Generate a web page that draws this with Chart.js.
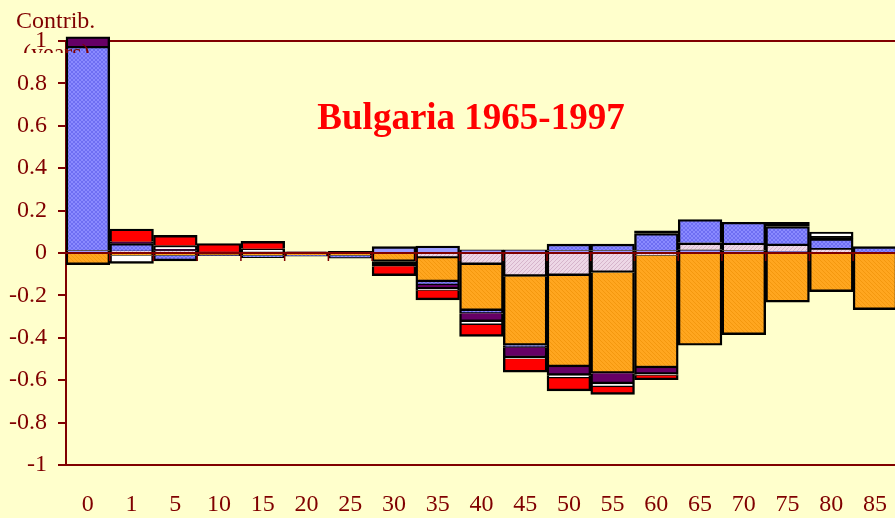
<!DOCTYPE html>
<html>
<head>
<meta charset="utf-8">
<script src="https://cdn.jsdelivr.net/npm/chart.js@4/dist/chart.umd.min.js"></script>
<style>
  html, body { margin: 0; padding: 0; background: #FFFFCC; overflow: hidden; }
  #wrap { position: relative; width: 912px; height: 518px; }
</style>
</head>
<body>
<div id="wrap"><canvas id="chart"></canvas></div>
<script>
// age groups on the x axis
const ageGroups = ['0', '1', '5', '10', '15', '20', '25', '30', '35', '40', '45', '50', '55', '60', '65', '70', '75', '80', '85'];
const yTicks = [1, 0.8, 0.6, 0.4, 0.2, 0, -0.2, -0.4, -0.6, -0.8, -1];

// contributions (years) per cause, in stacking order
const lavenderVals = [0.012, null, null, null, null, null, null, 0.03, 0.033, 0.015, 0.015, 0.012, 0.012, 0.012, 0.015, 0.012, 0.008, null, null];
const pinkVals     = [null, 0.01, 0.012, 0.005, 0.005, null, null, null, -0.024, -0.055, -0.11, -0.107, -0.092, -0.012, 0.033, 0.035, 0.035, 0.022, null];
const orangeVals   = [-0.055, -0.012, -0.012, -0.008, -0.012, -0.01, -0.012, -0.04, -0.112, -0.217, -0.325, -0.43, -0.475, -0.53, -0.435, -0.385, -0.232, -0.182, -0.267];
const blueVals     = [0.963, 0.035, -0.025, -0.005, -0.01, -0.005, -0.012, null, -0.014, -0.012, -0.01, 0.03, 0.03, 0.08, 0.11, 0.098, 0.082, 0.045, 0.03];
const blackVals    = [null, null, null, null, null, null, 0.008, -0.022, null, null, null, null, null, 0.012, null, null, 0.02, 0.012, null];
const purpleVals   = [0.045, 0.008, 0.005, null, null, 0.006, null, null, -0.018, -0.04, -0.05, -0.04, -0.05, -0.03, null, null, null, null, null];
const whiteVals    = [null, -0.037, 0.018, null, 0.015, null, null, null, -0.008, -0.014, -0.005, -0.013, -0.015, -0.005, null, null, null, 0.02, null];
const redVals      = [null, 0.06, 0.048, 0.04, 0.035, null, null, -0.045, -0.045, -0.055, -0.062, -0.06, -0.035, -0.02, null, null, null, null, null];

const AXIS_RED = '#800000';
const FONT = "'Liberation Serif', 'Times New Roman', serif";

// small tiled fills for the hatched segments
function makePattern(base, ink, dirs) {
  const c = document.createElement('canvas');
  c.width = 4; c.height = 4;
  const g = c.getContext('2d');
  g.fillStyle = base;
  g.fillRect(0, 0, 4, 4);
  g.fillStyle = ink;
  for (let i = 0; i < 4; i++) {
    if (dirs.includes('/')) g.fillRect(i, 3 - i, 1, 1);
    if (dirs.includes('\\')) g.fillRect(i, i, 1, 1);
  }
  return g.createPattern(c, 'repeat');
}

const fills = {
  lavender: '#9C9CFF',
  pink: makePattern('#EDD7E6', '#D6B4CB', '/'),
  orange: makePattern('#FFA61F', '#F4980E', '\\'),
  blue: makePattern('#8A8AFF', '#6E6EF2', '/\\'),
  black: '#000000',
  purple: '#660066',
  white: '#FFFFFF',
  red: '#FF0000'
};

// base side is left open so stacked segments share a single outline
function series(label, data, fill) {
  return {
    label, data,
    backgroundColor: fill,
    borderColor: '#000000',
    borderWidth: 2.4,
    barPercentage: 1,
    categoryPercentage: 1,
    clip: false
  };
}

// zero line with category tick marks, drawn over the bars
const zeroAxis = {
  id: 'zeroAxis',
  afterDatasetsDraw(chart) {
    const { ctx, chartArea, scales } = chart;
    const y0 = scales.y.getPixelForValue(0);
    const step = chartArea.width / ageGroups.length;
    ctx.save();
    ctx.strokeStyle = AXIS_RED;
    ctx.lineWidth = 2;
    ctx.beginPath();
    ctx.moveTo(chartArea.left, y0);
    ctx.lineTo(chartArea.right, y0);
    ctx.stroke();
    ctx.lineWidth = 1.5;
    for (let i = 1; i <= ageGroups.length; i++) {
      const x = scales.x.getPixelForValue(i - 1) + step / 2;
      ctx.beginPath();
      ctx.moveTo(x, y0);
      ctx.lineTo(x, y0 + 8);
      ctx.stroke();
    }
    ctx.restore();
  }
};

// axis caption and heading
const captions = {
  id: 'captions',
  afterDatasetsDraw(chart) {
    const ctx = chart.ctx;
    ctx.save();
    ctx.fillStyle = AXIS_RED;
    ctx.font = '24px ' + FONT;
    ctx.textAlign = 'left';
    ctx.textBaseline = 'alphabetic';
    ctx.fillText('Contrib.', 16, 28);
    ctx.save();
    ctx.beginPath();
    ctx.rect(0, 0, 912, 53);
    ctx.clip();
    ctx.fillText('(years)', 23, 60);
    ctx.restore();

    ctx.fillStyle = '#FF0000';
    ctx.font = 'bold 37px ' + FONT;
    ctx.textAlign = 'center';
    ctx.fillText('Bulgaria 1965-1997', 471, 129);
    ctx.restore();
  }
};

new Chart(document.getElementById('chart'), {
  type: 'bar',
  data: {
    labels: ageGroups,
    datasets: [
      series('lavender', lavenderVals, fills.lavender),
      series('pink', pinkVals, fills.pink),
      series('orange', orangeVals, fills.orange),
      series('blue', blueVals, fills.blue),
      series('black', blackVals, fills.black),
      series('purple', purpleVals, fills.purple),
      series('white', whiteVals, fills.white),
      series('red', redVals, fills.red)
    ]
  },
  options: {
    animation: false,
    responsive: true,
    maintainAspectRatio: false,
    layout: { padding: { top: 41, left: 0, right: 0, bottom: 0 } },
    plugins: {
      legend: { display: false },
      tooltip: { enabled: false }
    },
    scales: {
      x: {
        stacked: true,
        grid: { display: false, drawTicks: false },
        border: { display: true, color: AXIS_RED, width: 2 },
        ticks: { color: AXIS_RED, font: { family: FONT, size: 24 }, padding: 25, maxRotation: 0, autoSkip: false },
        afterFit: axis => { axis.height = 53; }
      },
      y: {
        stacked: true,
        min: -1,
        max: 1,
        afterBuildTicks: axis => { axis.ticks = yTicks.map(v => ({ value: v })); },
        grid: {
          color: c => (c.tick && c.tick.value === 1 ? AXIS_RED : 'transparent'),
          lineWidth: 2,
          tickColor: AXIS_RED,
          tickLength: 8
        },
        border: { display: true, color: AXIS_RED, width: 2 },
        ticks: {
          color: AXIS_RED,
          font: { family: FONT, size: 24 },
          padding: 11,
          callback: v => String(Math.round(v * 10) / 10)
        },
        afterFit: axis => { axis.width = 66; }
      }
    }
  },
  plugins: [captions, zeroAxis]
});
</script>
</body>
</html>
